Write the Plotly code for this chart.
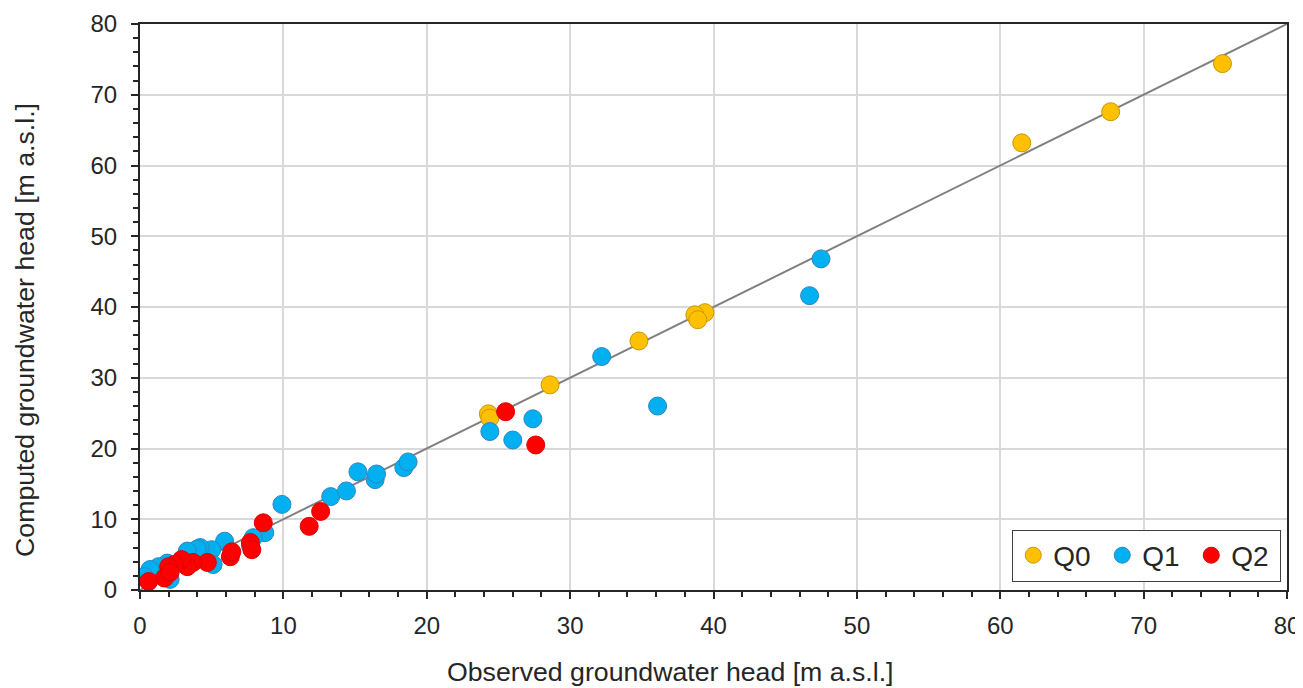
import plotly.graph_objects as go

# Observed (x) vs computed (y) groundwater head [m a.s.l.]
q0_obs = [75.5, 67.7, 61.5, 39.4, 38.7, 38.9, 34.8, 28.6, 24.3, 24.4]
q0_cmp = [74.4, 67.6, 63.2, 39.2, 38.9, 38.2, 35.2, 29.0, 24.9, 24.3]

q1_obs = [47.5, 46.7, 32.2, 36.1, 24.4, 26.0, 27.4, 9.9, 13.3, 14.4, 15.2, 16.4, 16.5,
          18.4, 18.7, 8.7, 7.9, 7.7, 5.9, 5.0, 4.2, 5.1, 4.0, 3.3, 1.9, 1.3, 0.7, 2.1, 0.3]
q1_cmp = [46.8, 41.6, 33.0, 26.0, 22.4, 21.2, 24.2, 12.1, 13.2, 14.0, 16.7, 15.6, 16.4,
          17.3, 18.1, 8.1, 7.4, 6.3, 6.9, 5.7, 6.0, 3.6, 5.8, 5.5, 3.8, 3.3, 2.9, 1.5, 1.9]

q2_obs = [27.6, 25.5, 12.6, 11.8, 8.6, 7.7, 7.8, 6.3, 6.4, 4.7, 3.7, 3.3, 2.9, 2.4, 2.0, 1.7, 0.6, 2.1]
q2_cmp = [20.5, 25.2, 11.1, 9.0, 9.5, 6.7, 5.7, 4.7, 5.4, 3.9, 3.9, 3.3, 4.3, 3.6, 3.3, 1.7, 1.2, 2.5]

line_ends = [0, 80]

x_title = "Observed groundwater head [m a.s.l.]"
y_title = "Computed groundwater head [m a.s.l.]"

font = "Liberation Sans, Arial, sans-serif"
ink = "#262626"

fig = go.Figure()
fig.add_trace(go.Scatter(x=line_ends, y=line_ends, mode="lines",
                         line=dict(color="#808080", width=2), showlegend=False,
                         hoverinfo="skip"))

def add(xs, ys, name, color, edge):
    fig.add_trace(go.Scatter(x=xs, y=ys, mode="markers", name=name,
                             marker=dict(size=18, color=color,
                                         line=dict(color=edge, width=1))))

add(q0_obs, q0_cmp, "Q0", "#FFC000", "#C99700")
add(q1_obs, q1_cmp, "Q1", "#00B0F0", "#2E86C1")
add(q2_obs, q2_cmp, "Q2", "#FF0000", "#E00000")

axis_common = dict(
    range=[0, 80], dtick=10, tick0=0,
    showgrid=True, gridcolor="#D9D9D9", gridwidth=2,
    showline=True, linecolor=ink, linewidth=2, mirror=True,
    ticks="outside", ticklen=7, tickwidth=2, tickcolor=ink,
    minor=dict(dtick=2, ticks="outside", ticklen=5, tickwidth=2,
               tickcolor=ink, showgrid=False),
    zeroline=False, automargin=False,
    tickfont=dict(family=font, size=24, color=ink),
)

title_font = dict(family=font, size=26.7, color=ink)

# the page body adds an 8px offset, so the figure is sized to fit inside the window
fig.update_layout(
    width=1295, height=680,
    margin=dict(l=132, r=16, t=16, b=98),
    paper_bgcolor="white", plot_bgcolor="white",
    font=dict(family=font, color=ink),
    xaxis=dict(**axis_common, ticklabelstandoff=6),
    yaxis=dict(**axis_common, ticklabelstandoff=9),
    legend=dict(orientation="h", x=0.995, xanchor="right", y=0.015, yanchor="bottom",
                bgcolor="white", bordercolor="#404040", borderwidth=1,
                font=dict(family=font, size=28, color=ink),
                itemwidth=30, entrywidth=44, entrywidthmode="pixels"),
    showlegend=True,
    annotations=[
        dict(text=x_title, xref="paper", yref="paper", x=0.4629, y=-0.1455,
             xanchor="center", yanchor="middle", showarrow=False, font=title_font),
        dict(text=y_title, xref="paper", yref="paper", x=-0.1003, y=0.4594,
             xanchor="center", yanchor="middle", showarrow=False, textangle=-90,
             font=title_font),
    ],
)

fig.write_html("out.html")
